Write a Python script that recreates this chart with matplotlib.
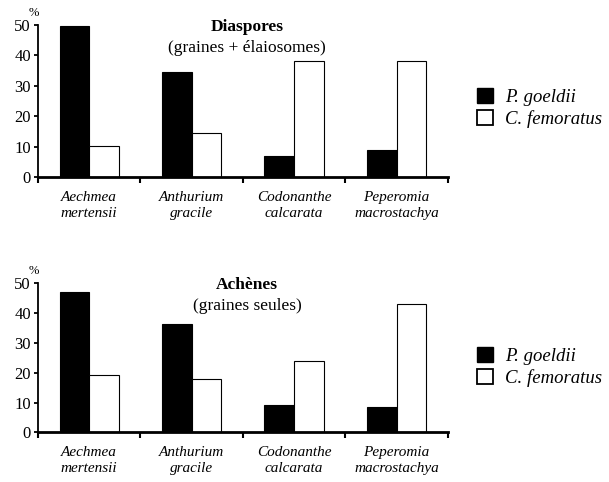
import numpy as np
import matplotlib
matplotlib.use("Agg")
import matplotlib.pyplot as plt
from matplotlib.patches import Patch

plt.rcParams['font.family'] = ['Liberation Serif', 'DejaVu Serif']

species = ["Aechmea\nmertensii", "Anthurium\ngracile", "Codonanthe\ncalcarata", "Peperomia\nmacrostachya"]
series = ["P. goeldii", "C. femoratus"]

diaspores_goeldii = [49.5, 34.6, 6.9, 8.9]
diaspores_femoratus = [10.2, 14.6, 38.2, 38.2]
achenes_goeldii = [47.0, 36.3, 9.2, 8.5]
achenes_femoratus = [19.3, 17.9, 23.8, 43.2]

panels = [
    ("Diaspores", "(graines + élaiosomes)", diaspores_goeldii, diaspores_femoratus),
    ("Achènes", "(graines seules)", achenes_goeldii, achenes_femoratus),
]

fig = plt.figure(figsize=(6.09, 4.82), dpi=100)
boxes = [[0.0624, 0.6328, 0.673, 0.3154], [0.0624, 0.1031, 0.673, 0.309]]
leg_y = [0.454, 0.44]

x = np.arange(len(species))
w = 0.29

for i, (title, sub, goel, femo) in enumerate(panels):
    ax = fig.add_axes(boxes[i])
    ax.bar(x - w / 2, goel, w, color="black", edgecolor="black", linewidth=0.8)
    ax.bar(x + w / 2, femo, w, color="white", edgecolor="black", linewidth=0.8)
    ax.set_xlim(-0.5, 3.5)
    ax.set_ylim(0, 50)
    ax.set_yticks([0, 10, 20, 30, 40, 50])
    ax.set_xticks(np.arange(-0.5, 4, 1))
    ax.set_xticklabels([])
    ax.spines["top"].set_visible(False)
    ax.spines["right"].set_visible(False)
    ax.spines["left"].set_linewidth(1.3)
    ax.spines["bottom"].set_linewidth(2.0)
    ax.tick_params(axis="y", direction="out", length=3, width=1.3, labelsize=12, pad=2)
    ax.tick_params(axis="x", direction="out", length=4, width=1.5)
    for j, name in enumerate(species):
        ax.text(j, -0.095, name, transform=ax.get_xaxis_transform(), ha="center",
                va="top", style="italic", fontsize=11, linespacing=1.25)
    ax.text(-0.01, 1.08, "%", transform=ax.transAxes, ha="center", va="center", fontsize=9)
    ax.text(0.51, 0.987, title, transform=ax.transAxes, ha="center", va="center",
            fontsize=12.5, fontweight="bold")
    ax.text(0.51, 0.848, sub, transform=ax.transAxes, ha="center", va="center",
            fontsize=12.5)
    handles = [Patch(facecolor="black", edgecolor="black"),
               Patch(facecolor="white", edgecolor="black", linewidth=1.3)]
    ax.legend(handles, series, loc="center left", bbox_to_anchor=(1.071, leg_y[i]),
              frameon=False, prop={"style": "italic", "size": 13.5},
              handlelength=0.85, handleheight=0.85, handletextpad=0.65,
              labelspacing=0.2, borderaxespad=0, borderpad=0)

fig.savefig("out.png", dpi=100)
